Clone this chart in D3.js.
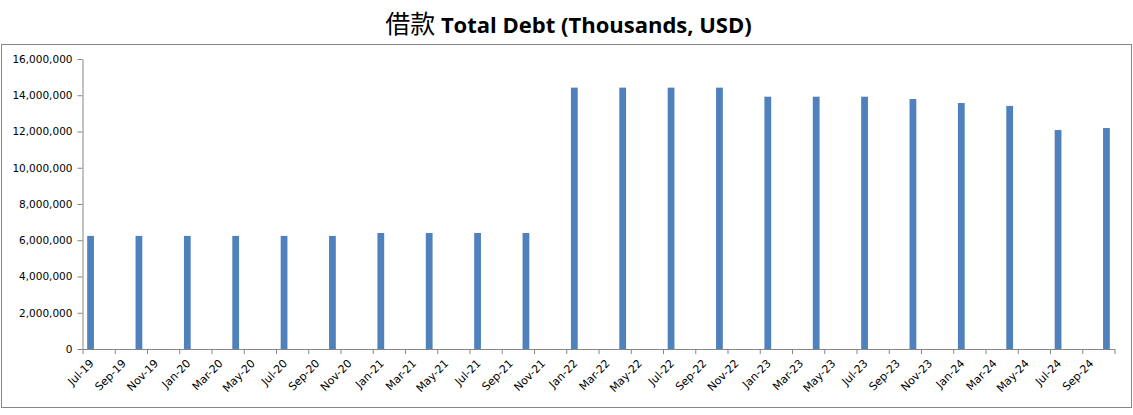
<!DOCTYPE html>
<html>
<head>
<meta charset="utf-8">
<script src="https://cdn.jsdelivr.net/npm/d3@7"></script>
<style>
  body { margin: 0; background: #fff; }
  svg text { font-family: "DejaVu Sans", Verdana, sans-serif; }
</style>
</head>
<body>
<div class="chart-container"></div>
<script>
//! DATA
const quarters = ['2019-07', '2019-10', '2020-01', '2020-04', '2020-07', '2020-10',
  '2021-01', '2021-04', '2021-07', '2021-10', '2022-01', '2022-04', '2022-07', '2022-10',
  '2023-01', '2023-04', '2023-07', '2023-10', '2024-01', '2024-04', '2024-07', '2024-10']
const debt = [6240000, 6240000, 6240000, 6240000, 6240000, 6240000,
  6400000, 6400000, 6400000, 6400000, 14420000, 14420000, 14420000, 14420000,
  13920000, 13920000, 13920000, 13790000, 13570000, 13410000, 12080000, 12190000]
const yTicks = [0, 2000000, 4000000, 6000000, 8000000, 10000000, 12000000, 14000000, 16000000]
const axisStart = new Date(2019, 6, 1)
const axisEnd = new Date(2024, 10, 1)

//! CONSTS
const WIDTH = 1133
const HEIGHT = 415
const LEFT = 82.5
const RIGHT = 1114.5
const TOP = 59
const BOTTOM = 349
const BLUE = '#4F81BD'
const GREY = '#868686'

const parse = d3.timeParse('%Y-%m')
const fmtMonth = d3.timeFormat('%b-%y')
const key = d3.timeFormat('%Y-%m')

const months = d3.timeMonth.range(axisStart, axisEnd)
const dataset = quarters.map((q, i) => ({ month: key(parse(q)), value: debt[i] }))

//! SVG
const svg = d3.select('.chart-container')
  .append('svg')
  .attr('width', WIDTH)
  .attr('height', HEIGHT)

svg.append('rect')
  .attr('x', 1.5).attr('y', 44.5)
  .attr('width', 1130).attr('height', 363)
  .attr('fill', '#fff')
  .attr('stroke', GREY)

//! SCALES
const xScale = d3.scaleBand()
  .domain(months.map(key))
  .range([LEFT, RIGHT])
  .padding(0)

const xIndex = d3.scaleLinear()
  .domain([0, months.length])
  .range([LEFT, RIGHT])

const yScale = d3.scaleLinear()
  .domain([0, 16000000])
  .range([BOTTOM, TOP])

//! AXES
const yAxis = svg.append('g')
  .attr('transform', `translate(${LEFT},0)`)
  .call(d3.axisLeft(yScale).tickValues(yTicks).tickFormat(d3.format(',')).tickSize(5).tickSizeOuter(0).tickPadding(5))
yAxis.select('.domain').attr('stroke', GREY)
yAxis.selectAll('line').attr('stroke', GREY)
yAxis.selectAll('text').attr('font-size', '10.5px').attr('fill', '#000')
  .attr('font-family', '"DejaVu Sans", Verdana, sans-serif')

const xAxis = svg.append('g')
  .attr('transform', `translate(0,${BOTTOM})`)
  .call(d3.axisBottom(xIndex).tickValues(d3.range(0, months.length + 1, 2)).tickFormat('').tickSize(5).tickSizeOuter(0))
xAxis.select('.domain').attr('stroke', GREY)
xAxis.selectAll('line').attr('stroke', GREY)

const labelMonths = months.filter((m, i) => i % 2 === 0)
svg.append('g')
  .selectAll('text')
  .data(labelMonths)
  .enter()
  .append('text')
  .attr('text-anchor', 'end')
  .attr('font-size', '11px')
  .attr('fill', '#000')
  .attr('transform', d => `translate(${xScale(key(d)) + xScale.bandwidth() / 2 + 4},${BOTTOM + 15}) rotate(-45)`)
  .text(d => fmtMonth(d))

//! BARS
const barW = xScale.bandwidth() * 0.42
svg.append('g')
  .selectAll('rect')
  .data(dataset)
  .enter()
  .append('rect')
  .attr('x', d => xScale(d.month) + (xScale.bandwidth() - barW) / 2)
  .attr('y', d => yScale(d.value))
  .attr('width', barW)
  .attr('height', d => yScale(0) - yScale(d.value))
  .attr('fill', BLUE)

//! TITLE
const title = svg.append('text')
  .attr('x', WIDTH / 2 + 2)
  .attr('y', 33)
  .attr('text-anchor', 'middle')
  .attr('fill', '#000')
title.append('tspan')
  .attr('font-family', '"Noto Sans CJK SC", sans-serif')
  .attr('font-size', '25px')
  .text('借款 ')
title.append('tspan')
  .attr('font-family', '"Open Sans", sans-serif')
  .attr('font-weight', 'bold')
  .attr('font-size', '22px')
  .text('Total Debt (Thousands, USD)')
</script>
</body>
</html>
